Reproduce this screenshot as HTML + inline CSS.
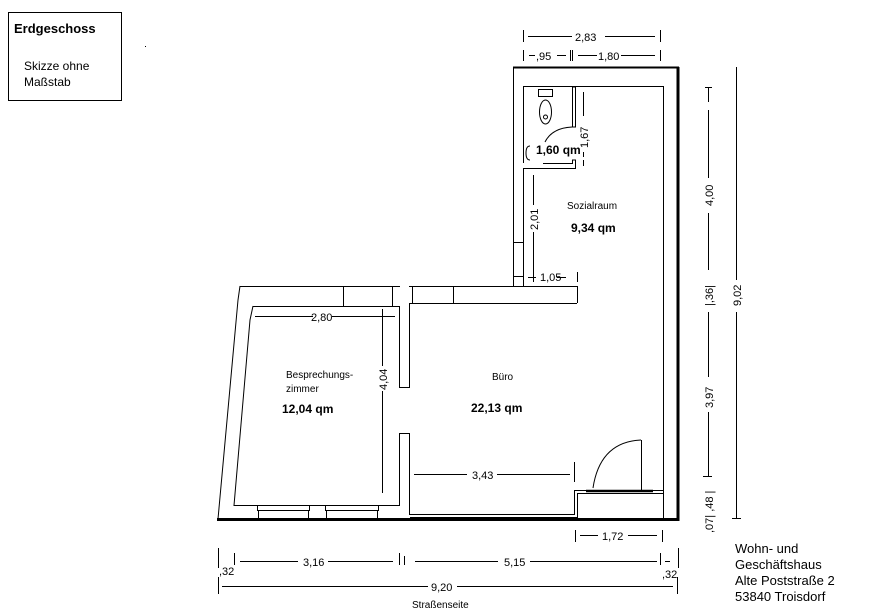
<!DOCTYPE html>
<html><head><meta charset="utf-8"><style>
html,body{margin:0;padding:0;background:#fff;}
svg{display:block;}
text{font-family:"Liberation Sans",Arial,sans-serif;fill:#000;}
</style></head><body>
<svg width="878" height="614" viewBox="0 0 878 614" xmlns="http://www.w3.org/2000/svg">
<g fill="none" stroke="#000" stroke-width="1">
<rect x="8.5" y="12.5" width="113" height="88"/>
<line x1="513.5" y1="67" x2="513.5" y2="286"/>
<line x1="513" y1="67.5" x2="679" y2="67.5" stroke-width="2"/>
<line x1="678" y1="67" x2="678" y2="521" stroke-width="3"/>
<line x1="523.5" y1="86.5" x2="663.5" y2="86.5"/>
<line x1="663.5" y1="86" x2="663.5" y2="520"/>
<line x1="523.5" y1="86" x2="523.5" y2="163"/>
<line x1="523.5" y1="169" x2="523.5" y2="286"/>
<line x1="523" y1="286.5" x2="577" y2="286.5"/>
<line x1="513" y1="242.5" x2="523" y2="242.5"/>
<line x1="513" y1="276.5" x2="523" y2="276.5"/>
<rect x="572.5" y="87" width="3" height="40"/>
<path d="M523 168.5 H575.5 V160 H572.5 V163.5 H543"/>
<rect x="538.5" y="89.5" width="14" height="7"/>
<ellipse cx="545.5" cy="112" rx="6" ry="12"/>
<circle cx="545.5" cy="117" r="2"/>
<path d="M530 146 q-4 0 -4 7 q0 7 4 7"/>
<path d="M572 127 Q552 128 545 142"/>
<path d="M240 286.5 H400 M409 286.5 H577.5 V303"/>
<path d="M240 286 L238 300 L218 519"/>
<path d="M253 306.5 H399.5 V387.5 H409.5 V303.5 H577"/>
<path d="M253 306 L250 320 L234 505.5 H399.5 V433.5 H409.5 V515"/>
<line x1="343.5" y1="286" x2="343.5" y2="306"/>
<line x1="392.5" y1="286" x2="392.5" y2="306"/>
<line x1="412.5" y1="286" x2="412.5" y2="303"/>
<line x1="453.5" y1="286" x2="453.5" y2="303"/>
<rect x="257.5" y="505.5" width="52" height="5"/>
<rect x="258.5" y="510.5" width="50" height="8"/>
<rect x="325.5" y="505.5" width="53" height="5"/>
<rect x="326.5" y="510.5" width="51" height="8"/>
<line x1="217" y1="519.5" x2="679" y2="519.5" stroke-width="3"/>
<path d="M410 514.5 H574.5 V490.5 H663 M410 517.5 H577.5 V493.5 H663"/>
<line x1="586" y1="491" x2="653" y2="491" stroke-width="2.5"/>
<line x1="641.5" y1="440" x2="641.5" y2="490"/>
<path d="M641 440 Q600 442 593 488"/>
<path d="M255 316.5 H313 M332 316.5 H395 M382.5 309 V366 M382.5 391 V493"/>
<path d="M414 474.5 H467 M497 474.5 H570 M574.5 462 V482"/>
<path d="M533.5 175 V205 M533.5 232 V280 M528 277.5 H536 M533.5 273 V282 M557 277.5 H566 M577.5 272 V282"/>
<path d="M583.5 92 V116 M583.5 152 V157 M583.5 160 V166"/>
<path d="M523.5 30 V42 M660.5 30 V42 M528 36.5 H572 M605 36.5 H655"/>
<path d="M523.5 50 V61 M660.5 50 V61 M529 55.5 H535 M557 55.5 H566 M570.5 50 V61 M572.5 50 V61 M578 55.5 H597 M621 55.5 H655"/>
<path d="M708.5 87 V102 M705 87.5 H712 M708.5 110 V178 M708.5 213 V270 M708.5 312 V377 M708.5 412 V476 M703 476.5 H712"/>
<path d="M736.5 67 V280 M736.5 312 V519 M732 518.5 H741"/>
<path d="M575.5 530 V542 M662.5 530 V542 M580 535.5 H598 M628 535.5 H657"/>
<path d="M218.5 548 V568 M234.5 553 V565 M240 561.5 H298 M328 561.5 H393 M399.5 553 V565 M404.5 556 V565 M415 561.5 H498 M530 561.5 H657 M660.5 553 V565 M665 561.5 H670 M678.5 548 V568"/>
<path d="M218.5 577 V594 M222 586.5 H428 M457 586.5 H673 M677.5 577 V594"/>
</g>
<text x="14" y="33" font-size="13" font-weight="bold">Erdgeschoss</text>
<text x="24" y="70" font-size="12">Skizze ohne</text>
<text x="24" y="86" font-size="12">Maßstab</text>
<rect x="145" y="46" width="1" height="1" fill="#000"/>
<text x="575" y="41" font-size="11">2,83</text>
<text x="536" y="60" font-size="11">,95</text>
<text x="598" y="60" font-size="11">1,80</text>
<text x="536" y="154" font-size="12" font-weight="bold">1,60 qm</text>
<text x="567" y="209" font-size="10">Sozialraum</text>
<text x="571" y="232" font-size="12" font-weight="bold">9,34 qm</text>
<text x="540" y="281" font-size="11">1,05</text>
<text x="311" y="321" font-size="11">2,80</text>
<text x="286" y="378" font-size="10">Besprechungs-</text>
<text x="286" y="392" font-size="10">zimmer</text>
<text x="282" y="413" font-size="12" font-weight="bold">12,04 qm</text>
<text x="492" y="380" font-size="10">Büro</text>
<text x="471" y="412" font-size="12" font-weight="bold">22,13 qm</text>
<text x="472" y="479" font-size="11">3,43</text>
<text x="602" y="540" font-size="11">1,72</text>
<text x="303" y="566" font-size="11">3,16</text>
<text x="504" y="566" font-size="11">5,15</text>
<text x="219" y="575" font-size="11">,32</text>
<text x="662" y="578" font-size="11">,32</text>
<text x="431" y="591" font-size="11">9,20</text>
<text x="412" y="608" font-size="10">Straßenseite</text>
<text font-size="11" transform="translate(538,230) rotate(-90)">2,01</text>
<text font-size="11" transform="translate(588,148) rotate(-90)">1,67</text>
<text font-size="11" transform="translate(387,390) rotate(-90)">4,04</text>
<text font-size="11" transform="translate(713,206) rotate(-90)">4,00</text>
<text font-size="11" transform="translate(713,306) rotate(-90)">|,36|</text>
<text font-size="11" transform="translate(713,408) rotate(-90)">3,97</text>
<text font-size="11" transform="translate(713,533) rotate(-90)">,07| ,48 |</text>
<text font-size="11" transform="translate(741,306) rotate(-90)">9,02</text>
<text x="735" y="553" font-size="13">Wohn- und</text>
<text x="735" y="569" font-size="13">Geschäftshaus</text>
<text x="735" y="585" font-size="13">Alte Poststraße 2</text>
<text x="735" y="601" font-size="13">53840 Troisdorf</text>
</svg>
</body></html>
